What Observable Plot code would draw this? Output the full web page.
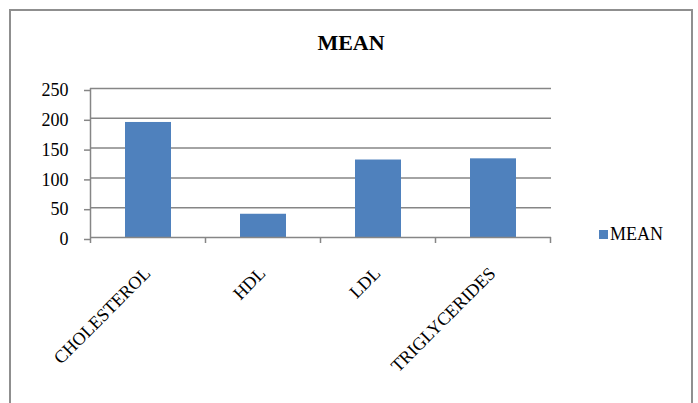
<!DOCTYPE html>
<html>
<head>
<meta charset="utf-8">
<script src="https://cdn.jsdelivr.net/npm/d3@7"></script>
<script src="https://cdn.jsdelivr.net/npm/@observablehq/plot@0.6"></script>
<style>
  html, body { margin: 0; padding: 0; background: #fff; overflow: hidden; }
  #chart { position: relative; width: 698px; height: 403px; font-family: "Liberation Serif", "Times New Roman", serif; }
  #frame { position: absolute; left: 9px; top: 9px; width: 684px; height: 420px; border: 2px solid #8f8f8f; box-sizing: border-box; }
  #title { position: absolute; left: 9px; width: 684px; top: 30px; text-align: center; font-weight: bold; font-size: 22px; line-height: 26px; color: #000; }
  #legend { position: absolute; left: 599px; top: 225px; font-size: 18px; line-height: 18px; color: #000; display: flex; align-items: center; }
  #legend .swatch { display: inline-block; width: 9px; height: 9px; margin-right: 2px; }
  #plot { position: absolute; left: 0; top: 0; }
</style>
</head>
<body>
<div id="chart">
  <div id="frame"></div>
  <div id="plot"></div>
  <div id="title"></div>
  <div id="legend"></div>
</div>
<script>
// Mean lipid profile values
const categories = ["CHOLESTEROL", "HDL", "LDL", "TRIGLYCERIDES"];
const meanValues = [193, 39, 130, 132];
const yTicks = [0, 50, 100, 150, 200, 250];
const seriesName = "MEAN";
const chartTitle = "MEAN";

const barColor = "#4F81BD";
const lineColor = "#868686";

const data = categories.map((name, i) => ({name, value: meanValues[i]}));

// Value axis line, plus tick marks on the category axis placed on the
// boundaries between categories
function axisLines(index, scales) {
  const x = scales.x, y = scales.y;
  const step = x.step();
  const offset = (step - x.bandwidth()) / 2;
  const edges = categories.map(c => x(c) - offset);
  edges.push(edges[edges.length - 1] + step);
  const y0 = y(0);
  const yTop = y(yTicks[yTicks.length - 1]);
  const g = d3.create("svg:g")
    .attr("stroke", lineColor)
    .attr("stroke-width", 1.5);
  g.append("line")
    .attr("x1", edges[0]).attr("x2", edges[0])
    .attr("y1", yTop).attr("y2", y0);
  for (const e of edges) {
    g.append("line")
      .attr("x1", e).attr("x2", e)
      .attr("y1", y0).attr("y2", y0 + 6);
  }
  return g.node();
}

const plot = Plot.plot({
  width: 698,
  height: 403,
  marginLeft: 90,
  marginRight: 147,
  marginTop: 88,
  marginBottom: 166,
  style: {fontFamily: "Liberation Serif, Times New Roman, serif", fontSize: "18px", background: "transparent", color: "#000"},
  x: {domain: categories, paddingInner: 0.6, paddingOuter: 0.3, label: null},
  y: {domain: [0, 250], label: null},
  marks: [
    Plot.gridY(yTicks.filter(v => v > 0), {stroke: lineColor, strokeOpacity: 1, strokeWidth: 1.5}),
    Plot.barY(data, {x: "name", y: "value", fill: barColor}),
    Plot.ruleY([0], {stroke: lineColor, strokeWidth: 1.5}),
    Plot.axisY({ticks: yTicks, tickSize: 6, tickPadding: 16, stroke: lineColor, strokeWidth: 1.5, fontSize: 18, dy: 2, label: null}),
    Plot.axisX({tickRotate: -45, tickSize: 0, tickPadding: 33, dx: -1, fontSize: 18, label: null}),
    axisLines
  ]
});
document.getElementById("plot").append(plot);

document.getElementById("title").textContent = chartTitle;
const legend = document.getElementById("legend");
const sw = document.createElement("span");
sw.className = "swatch";
sw.style.background = barColor;
legend.append(sw, document.createTextNode(seriesName));
</script>
</body>
</html>
